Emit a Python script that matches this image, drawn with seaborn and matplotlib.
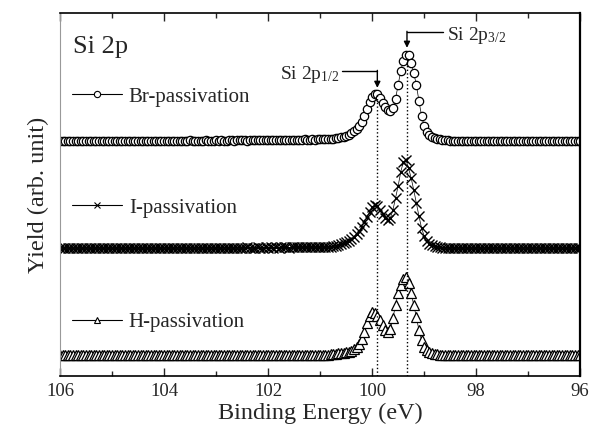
"""
Si 2p core-level spectra for Br-, I- and H-passivated surfaces.
"""

import numpy as np
import matplotlib
matplotlib.use("Agg")
import matplotlib.pyplot as plt
from matplotlib.lines import Line2D
from matplotlib.ticker import MultipleLocator
import seaborn as sns

# Binding energy grid (eV), 0.05 eV steps from 106 down to 96
energy = np.round(np.linspace(106.0, 96.0, 201), 2)

# Yield (arb. unit), one value per energy point
br_yield = [
    # 106.00 - 100.95
    0.0, 0.3, -0.2, 0.1, 0.4, -0.1, 0.2, 0.0, -0.3, 0.1, 0.3, 0.0, -0.2, 0.2, 0.1, -0.1, 0.3, 0.0, 0.2, -0.2,
    0.1, 0.3, 0.0, -0.1, 0.2, 0.4, 0.1, -0.2, 0.0, 0.3, 0.2, -0.1, 0.1, 0.4, 0.0, 0.2, -0.2, 0.1, 0.3, 0.0,
    0.2, 0.4, 0.1, -0.1, 0.3, 0.2, 0.0, 0.4, 0.1, 0.3, 0.5, 0.2, 0.0, 0.3, 0.4, 0.1, 0.5, 0.3, 0.2, 0.4,
    0.5, 0.3, 0.6, 0.4, 0.2, 0.5, 0.7, 0.4, 0.6, 0.5, 0.8, 0.6, 0.4, 0.7, 0.9, 0.6, 0.8, 0.7, 1.0, 0.8,
    0.9, 1.1, 0.8, 1.0, 1.2, 0.9, 1.1, 1.3, 1.0, 1.2, 1.4, 1.1, 1.3, 1.2, 1.5, 1.3, 1.4, 1.6, 1.4, 1.5,
    1.7, 1.6,
    # 100.90 - 98.60 (peak region)
    1.8, 1.9, 2.1, 2.4, 2.8, 3.2, 3.7, 4.3, 5.0, 6.0, 7.5, 10, 12, 15, 19, 25, 32, 39, 44, 46.5,
    47, 43, 38, 34, 31, 30, 33, 42, 56, 70, 80, 86, 86, 78, 68, 56, 40, 25, 15, 9,
    6, 4, 3, 2, 1.5, 1.0, 0.8,
    # 98.55 - 96.00
    0.5, 0.3, 0.2, 0.4, 0.1, 0.0, 0.3, 0.2, -0.1, 0.1, 0.3, 0.0, 0.2, -0.2, 0.1, 0.3, 0.0, -0.1, 0.2, 0.1,
    0.3, -0.1, 0.0, 0.2, 0.1, -0.2, 0.3, 0.0, 0.1, 0.2, -0.1, 0.0, 0.3, 0.1, -0.2, 0.2, 0.0, 0.1, -0.1, 0.3,
    0.0, 0.2, 0.1, -0.2, 0.0, 0.3, 0.1, -0.1, 0.2, 0.0, 0.1, 0.2,
]

i_yield = [
    0.2, -0.1, 0.3, 0.0, 0.1, -0.2, 0.2, 0.4, 0.0, -0.1, 0.3, 0.1, -0.2, 0.0, 0.2, 0.3, -0.1, 0.1, 0.0, 0.2,
    -0.2, 0.1, 0.3, 0.0, 0.2, -0.1, 0.1, 0.4, 0.2, 0.0, -0.1, 0.3, 0.1, 0.2, -0.2, 0.0, 0.3, 0.1, -0.1, 0.2,
    0.0, 0.3, 0.1, 0.2, -0.1, 0.4, 0.2, 0.0, 0.3, 0.1, 0.2, 0.4, 0.0, 0.3, 0.2, 0.1, 0.4, 0.2, 0.3, 0.1,
    0.4, 0.2, 0.3, 0.5, 0.2, 0.4, 0.3, 0.5, 0.4, 0.2, 0.5, 0.3, 0.6, 0.4, 0.5, 0.3, 0.6, 0.5, 0.4, 0.6,
    0.5, 0.7, 0.4, 0.6, 0.5, 0.7, 0.6, 0.8, 0.5, 0.7, 0.6, 0.8, 0.7, 0.6, 0.9, 0.7, 0.8, 0.9, 0.8, 1.0,
    0.9, 1.0,
    1.0, 1.1, 1.5, 2.0, 2.5, 3.0, 4.0, 5.0, 6.0, 7.0, 9.0, 11, 14, 17, 21, 26, 31, 36, 41, 43,
    42, 38, 34, 30, 28, 30, 38, 50, 62, 76, 86, 88, 80, 70, 58, 45, 32, 20, 12, 7,
    4, 3, 2, 1.5, 1.0, 0.5, 0.5,
    0.2, 0.0, 0.3, -0.1, 0.1, 0.2, 0.0, 0.3, -0.2, 0.1, 0.0, 0.2, 0.3, -0.1, 0.1, 0.0, 0.2, -0.2, 0.3, 0.1,
    0.0, 0.2, -0.1, 0.1, 0.3, 0.0, -0.2, 0.2, 0.1, 0.0, 0.3, -0.1, 0.2, 0.0, 0.1, -0.2, 0.3, 0.1, 0.0, 0.2,
    -0.1, 0.1, 0.3, 0.0, 0.2, -0.1, 0.1, 0.0, 0.3, 0.2, -0.1, 0.1,
]

h_yield = [
    0.1, 0.3, -0.1, 0.2, 0.0, 0.3, -0.2, 0.1, 0.2, 0.0, -0.1, 0.3, 0.1, 0.0, 0.2, -0.2, 0.1, 0.3, 0.0, 0.2,
    0.0, -0.1, 0.2, 0.3, 0.1, -0.2, 0.0, 0.2, 0.1, 0.3, -0.1, 0.0, 0.2, 0.1, -0.2, 0.3, 0.0, 0.1, 0.2, -0.1,
    0.2, 0.0, 0.3, 0.1, -0.1, 0.2, 0.0, 0.3, 0.1, 0.2, -0.2, 0.1, 0.3, 0.0, 0.2, 0.1, -0.1, 0.3, 0.2, 0.0,
    0.1, 0.3, 0.0, 0.2, 0.1, -0.1, 0.3, 0.2, 0.0, 0.1, 0.3, 0.2, 0.0, 0.4, 0.1, 0.2, 0.3, 0.0, 0.2, 0.4,
    0.1, 0.3, 0.2, 0.4, 0.2, 0.3, 0.1, 0.4, 0.3, 0.2, 0.5, 0.3, 0.4, 0.2, 0.5, 0.4, 0.3, 0.5, 0.4, 0.6,
    0.4, 0.5,
    0.5, 0.6, 1.0, 1.2, 1.5, 2.0, 2.2, 2.5, 3.0, 3.5, 4.5, 6.0, 8.0, 11, 16, 23, 32, 39, 43, 42,
    39, 35, 30, 25, 23, 26, 37, 50, 62, 70, 76, 78, 72, 62, 50, 38, 25, 15, 8, 5,
    3, 2, 1.5, 1.0, 0.5, 0.5, 0.2,
    0.1, 0.3, 0.0, 0.2, -0.1, 0.1, 0.3, 0.0, 0.2, 0.1, -0.2, 0.2, 0.0, 0.3, 0.1, -0.1, 0.2, 0.0, 0.1, 0.3,
    -0.1, 0.0, 0.2, 0.1, 0.3, -0.2, 0.1, 0.0, 0.2, 0.3, 0.0, -0.1, 0.2, 0.1, 0.0, 0.3, -0.2, 0.1, 0.2, 0.0,
    0.3, 0.1, -0.1, 0.2, 0.0, 0.1, 0.3, -0.2, 0.2, 0.1, 0.0, 0.2,
]

labels = ["Br-passivation", "I-passivation", "H-passivation"]
markers = ["o", "x", "^"]
offsets = [214, 107, 0]           # vertical stacking of the spectra
peak_positions = [99.9, 99.33]    # Si 2p1/2, Si 2p3/2

# Style
sns.set_style("ticks")
plt.rcParams["font.family"] = ["Liberation Serif", "DejaVu Serif"]
plt.rcParams["mathtext.fontset"] = "custom"
plt.rcParams["mathtext.rm"] = "Liberation Serif"
plt.rcParams["mathtext.it"] = "Liberation Serif:italic"

fig = plt.figure(figsize=(5.89, 4.41), dpi=100)
ax = fig.add_axes([0.102, 0.147, 0.883, 0.824])

marker_opts = {
    "o": dict(markersize=6.0, markerfacecolor="white", markeredgewidth=0.9),
    "x": dict(markersize=7.0, markeredgewidth=1.0),
    "^": dict(markersize=6.5, markerfacecolor="white", markeredgewidth=0.9),
}

for ys, mk, off in zip([br_yield, i_yield, h_yield], markers, offsets):
    sns.lineplot(x=energy, y=np.array(ys) + off, ax=ax, color="black",
                 lw=0.5, marker=mk, markeredgecolor="black",
                 estimator=None, sort=False, **marker_opts[mk])

ax.set_xlim(106, 96)
ax.set_ylim(-21, 342)

# dotted guide lines through the two peaks
ax.vlines(peak_positions[0], -21, 260, colors="black", linestyles=":", lw=1)
ax.vlines(peak_positions[1], -21, 295, colors="black", linestyles=":", lw=1)

# peak labels with bent arrows
ax.plot([100.58, peak_positions[0]], [284, 284], color="black", lw=1)
ax.annotate("", xy=(peak_positions[0], 267), xytext=(peak_positions[0], 284.5),
            arrowprops=dict(arrowstyle="-|>", color="black", lw=1,
                            mutation_scale=9, shrinkA=0, shrinkB=0))
ax.text(100.63, 280, "Si 2p$_{1/2}$", ha="right", va="center", fontsize=14)

ax.plot([98.63, peak_positions[1]], [323, 323], color="black", lw=1)
ax.annotate("", xy=(peak_positions[1], 307), xytext=(peak_positions[1], 323.5),
            arrowprops=dict(arrowstyle="-|>", color="black", lw=1,
                            mutation_scale=9, shrinkA=0, shrinkB=0))
ax.text(98.57, 319, "Si 2p$_{3/2}$", ha="left", va="center", fontsize=14)

ax.text(0.025, 0.905, "Si 2p", transform=ax.transAxes, ha="left",
        va="center", fontsize=19)

# one small legend next to each spectrum
legend_y = [0.769, 0.463, 0.149]
for lab, mk, yy in zip(labels, markers, legend_y):
    fc = "black" if mk == "x" else "white"
    h = Line2D([], [], color="black", lw=0.8, marker=mk, markersize=4.5,
               markerfacecolor=fc, markeredgecolor="black", markeredgewidth=0.8)
    leg = ax.legend([h], [lab], loc="center left", bbox_to_anchor=(0.022, yy),
                    frameon=False, fontsize=15, handlelength=2.4,
                    handletextpad=0.35, borderpad=0, borderaxespad=0)
    ax.add_artist(leg)
ax.legend_ = None  # all three are already attached as artists

# axes
ax.xaxis.set_major_locator(MultipleLocator(2))
ax.xaxis.set_minor_locator(MultipleLocator(1))
ax.tick_params(axis="x", which="both", direction="in", top=True, bottom=True,
               labelsize=13.5, pad=5, width=1)
ax.tick_params(axis="x", which="major", length=6)
ax.tick_params(axis="x", which="minor", length=3.5)
ax.tick_params(axis="y", left=False, right=False, labelleft=False)
ax.set_xticks([106, 104, 102, 100, 98, 96])
ax.set_xticklabels(["106", "104", "102", "100", "98", "96"])

ax.set_xlabel("Binding Energy (eV)", fontsize=17.5, labelpad=2)
ax.set_ylabel("Yield (arb. unit)", fontsize=17.5, labelpad=8)

for side in ["top", "bottom", "right"]:
    ax.spines[side].set_visible(True)
    ax.spines[side].set_color("black")
ax.spines["top"].set_linewidth(1.2)
ax.spines["bottom"].set_linewidth(1.2)
ax.spines["right"].set_linewidth(1.6)
ax.spines["left"].set_color("#999999")
ax.spines["left"].set_linewidth(0.8)

fig.savefig("out.png", dpi=100)
plt.close(fig)
